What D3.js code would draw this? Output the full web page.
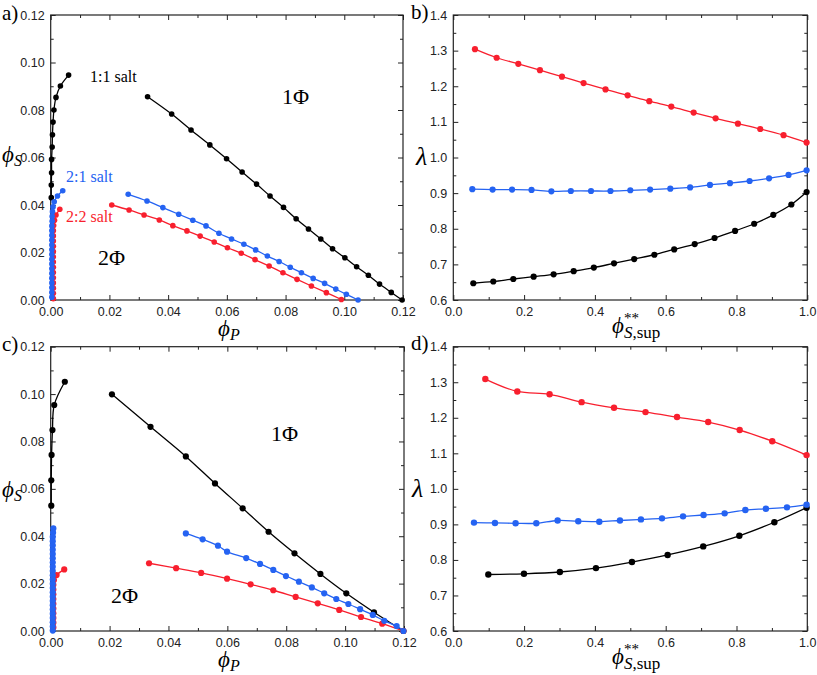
<!DOCTYPE html>
<html><head><meta charset="utf-8">
<script src="https://cdn.jsdelivr.net/npm/d3@7"></script>
<style>body{margin:0;background:#fff}svg{display:block}</style>
</head><body><svg id="chart" width="817" height="675"></svg>
<script>
// ---------------- DATA ----------------
// Panel a) phase diagram (phi_P, phi_S)
const aBlackLeft = [[0.0061,0.0947],[0.0033,0.0901],[0.0018,0.0853],[0.0011,0.0800],[0.0008,0.0749],[0.0006,0.0696],[0.0005,0.0644],[0.0003,0.0592],[0.0003,0.0536],[0.0002,0.0484],[0.0002,0.0431]];
const aBlackRight = [[0.0330,0.0856],[0.0412,0.0783],[0.0478,0.0716],[0.0542,0.0653],[0.0599,0.0595],[0.0652,0.0539],[0.0701,0.0488],[0.0747,0.0438],[0.0793,0.0390],[0.0836,0.0342],[0.0878,0.0299],[0.0920,0.0257],[0.0960,0.0216],[0.1002,0.0178],[0.1042,0.0140],[0.1082,0.0104],[0.1120,0.0067],[0.1160,0.0032],[0.1197,0.0000]];
const aBlueLeft = [[0.0041,0.0460],[0.0023,0.0438],[0.0012,0.0414],[0.0008,0.0392],[0.0006,0.0372],[0.0005,0.0352],[0.0005,0.0332],[0.0004,0.0312],[0.0004,0.0292],[0.0004,0.0272],[0.0004,0.0252],[0.0004,0.0232],[0.0004,0.0212],[0.0004,0.0192],[0.0004,0.0172],[0.0004,0.0152],[0.0004,0.0132],[0.0004,0.0112],[0.0004,0.0092],[0.0004,0.0072],[0.0004,0.0052],[0.0004,0.0032],[0.0004,0.0012]];
const aBlueRight = [[0.0264,0.0445],[0.0328,0.0417],[0.0382,0.0389],[0.0436,0.0361],[0.0484,0.0336],[0.0529,0.0312],[0.0573,0.0281],[0.0616,0.0257],[0.0658,0.0235],[0.0698,0.0211],[0.0738,0.0185],[0.0778,0.0162],[0.0816,0.0138],[0.0854,0.0115],[0.0894,0.0091],[0.0933,0.0070],[0.0971,0.0046],[0.1007,0.0024],[0.1047,0.0000]];
const aRedLeft = [[0.0031,0.0382],[0.0018,0.0358],[0.0013,0.0336],[0.0010,0.0314],[0.0009,0.0292],[0.0009,0.0270],[0.0009,0.0248],[0.0009,0.0226],[0.0009,0.0204],[0.0009,0.0182],[0.0009,0.0160],[0.0009,0.0138],[0.0009,0.0116],[0.0009,0.0094],[0.0009,0.0072],[0.0009,0.0050],[0.0009,0.0028],[0.0009,0.0006]];
const aRedRight = [[0.0208,0.0400],[0.0267,0.0379],[0.0318,0.0358],[0.0370,0.0337],[0.0416,0.0313],[0.0464,0.0291],[0.0509,0.0269],[0.0557,0.0244],[0.0602,0.0220],[0.0649,0.0197],[0.0696,0.0170],[0.0744,0.0143],[0.0791,0.0115],[0.0839,0.0087],[0.0888,0.0059],[0.0939,0.0031],[0.0990,0.0002]];

// Panel b) lambda vs phi**_S,sup
const bBlack = [[0.0565,0.647],[0.113,0.652],[0.1695,0.659],[0.227,0.6655],[0.2834,0.672],[0.340,0.681],[0.397,0.691],[0.454,0.703],[0.511,0.715],[0.568,0.727],[0.624,0.742],[0.682,0.757],[0.738,0.774],[0.796,0.794],[0.850,0.814],[0.904,0.839],[0.955,0.868],[0.998,0.903]];
const bBlue = [[0.0537,0.911],[0.111,0.910],[0.166,0.910],[0.221,0.909],[0.277,0.905],[0.332,0.906],[0.389,0.906],[0.444,0.906],[0.500,0.908],[0.556,0.910],[0.613,0.9125],[0.669,0.916],[0.725,0.923],[0.7815,0.928],[0.837,0.934],[0.892,0.9415],[0.947,0.951],[0.998,0.964]];
const bRed = [[0.0612,1.304],[0.1224,1.280],[0.1836,1.263],[0.2448,1.245],[0.307,1.227],[0.368,1.209],[0.430,1.191],[0.4925,1.1745],[0.5537,1.158],[0.6158,1.143],[0.679,1.126],[0.741,1.110],[0.804,1.095],[0.867,1.080],[0.933,1.0626],[0.998,1.042]];

// Panel c) phase diagram
const cBlackLeft = [[0.0048,0.1052],[0.0012,0.0954],[0.0006,0.0848],[0.0003,0.0743],[0.0002,0.0636],[0.0002,0.0529]];
const cBlackRight = [[0.0208,0.0999],[0.0339,0.0862],[0.0459,0.0737],[0.0558,0.0623],[0.0652,0.0518],[0.0740,0.0419],[0.0828,0.0328],[0.0916,0.0241],[0.1004,0.0159],[0.1098,0.0079],[0.1198,0.0000]];
const cBlueLeft = [[0.0009,0.0433],[0.0008,0.0415],[0.0007,0.0397],[0.0007,0.0379],[0.0007,0.0361],[0.0007,0.0343],[0.0007,0.0325],[0.0007,0.0307],[0.0007,0.0289],[0.0007,0.0271],[0.0007,0.0253],[0.0007,0.0235],[0.0007,0.0217],[0.0007,0.0199],[0.0007,0.0181],[0.0007,0.0163],[0.0007,0.0145],[0.0007,0.0127],[0.0007,0.0109],[0.0007,0.0091],[0.0007,0.0073],[0.0007,0.0055],[0.0007,0.0037],[0.0007,0.0019],[0.0007,0.0002]];
const cBlueRight = [[0.0459,0.0412],[0.0516,0.0387],[0.0568,0.0360],[0.0599,0.0335],[0.0664,0.0308],[0.0711,0.0283],[0.0756,0.0258],[0.0799,0.0232],[0.0843,0.0208],[0.0887,0.0184],[0.0929,0.0159],[0.0970,0.0135],[0.1011,0.0114],[0.1051,0.0092],[0.1094,0.0068],[0.1133,0.0043],[0.1175,0.0021],[0.1198,0.0000]];
const cRedLeft = [[0.0046,0.0260],[0.0020,0.0236],[0.0011,0.0215],[0.0009,0.0195],[0.0009,0.0175],[0.0009,0.0155],[0.0009,0.0135],[0.0009,0.0115],[0.0009,0.0095],[0.0009,0.0075],[0.0009,0.0055],[0.0009,0.0035],[0.0009,0.0015]];
const cRedRight = [[0.0334,0.0286],[0.0426,0.0265],[0.0511,0.0245],[0.0599,0.0221],[0.0679,0.0197],[0.0756,0.0172],[0.0832,0.0144],[0.0907,0.0117],[0.0980,0.0089],[0.1054,0.0059],[0.1126,0.0031],[0.1198,0.0000]];

// Panel d) lambda vs phi**_S,sup
const dBlack = [[0.0989,0.759],[0.1996,0.761],[0.301,0.766],[0.403,0.777],[0.5047,0.794],[0.6055,0.814],[0.706,0.838],[0.808,0.868],[0.907,0.906],[0.998,0.947]];
const dBlue = [[0.0584,0.905],[0.1177,0.904],[0.176,0.903],[0.2345,0.903],[0.2947,0.911],[0.353,0.909],[0.4124,0.9076],[0.4708,0.911],[0.530,0.914],[0.5895,0.917],[0.649,0.9226],[0.707,0.9264],[0.7665,0.931],[0.825,0.9404],[0.883,0.944],[0.9426,0.948],[0.998,0.9555]];
const dRed = [[0.0904,1.309],[0.1808,1.274],[0.272,1.266],[0.3625,1.244],[0.454,1.228],[0.543,1.216],[0.632,1.202],[0.720,1.188],[0.809,1.1655],[0.901,1.134],[0.998,1.095]];

// Axis ticks
const phiTicks = [0, 0.02, 0.04, 0.06, 0.08, 0.10, 0.12];
const phiMinor = [0.01, 0.03, 0.05, 0.07, 0.09, 0.11];
const supTicks = [0, 0.2, 0.4, 0.6, 0.8, 1.0];
const supMinor = [0.1, 0.3, 0.5, 0.7, 0.9];
const lamTicks = [0.6, 0.7, 0.8, 0.9, 1.0, 1.1, 1.2, 1.3, 1.4];
const lamMinor = [0.65, 0.75, 0.85, 0.95, 1.05, 1.15, 1.25, 1.35];

// ---------------- DRAW ----------------
const BLACK = "#000000", BLUE = "#2563f2", RED = "#f81f2e";
const SANS = "'Liberation Sans', Arial, sans-serif";
const SERIF = "'Liberation Serif', 'Times New Roman', serif";
const svg = d3.select("#chart");
svg.append("rect").attr("width", 817).attr("height", 675).attr("fill", "#fff");

const panels = [
  {id:"a", L:50.7, R:403, T:15, B:300, xd:[0,0.12], yd:[0,0.12], xt:phiTicks, xm:phiMinor, yt:phiTicks, ym:phiMinor, xf:d3.format(".2f"), yf:d3.format(".2f"), r:2.8,
   series:[[aBlackLeft,BLACK],[aBlackRight,BLACK],[aRedLeft,RED],[aRedRight,RED],[aBlueLeft,BLUE],[aBlueRight,BLUE]]},
  {id:"b", L:453.3, R:807.3, T:15, B:300, xd:[0,1], yd:[0.6,1.4], xt:supTicks, xm:supMinor, yt:lamTicks, ym:lamMinor, xf:d3.format(".1f"), yf:d3.format(".1f"), r:3.1,
   series:[[bBlack,BLACK],[bRed,RED],[bBlue,BLUE]]},
  {id:"c", L:50.7, R:404, T:346.7, B:631, xd:[0,0.12], yd:[0,0.12], xt:phiTicks, xm:phiMinor, yt:phiTicks, ym:phiMinor, xf:d3.format(".2f"), yf:d3.format(".2f"), r:3.1,
   series:[[cBlackLeft,BLACK],[cBlackRight,BLACK],[cRedLeft,RED],[cRedRight,RED],[cBlueLeft,BLUE],[cBlueRight,BLUE]]},
  {id:"d", L:453.3, R:807.3, T:346.7, B:631, xd:[0,1], yd:[0.6,1.4], xt:supTicks, xm:supMinor, yt:lamTicks, ym:lamMinor, xf:d3.format(".1f"), yf:d3.format(".1f"), r:3.2,
   series:[[dBlack,BLACK],[dRed,RED],[dBlue,BLUE]]}
];

panels.forEach(p => {
  const x = d3.scaleLinear().domain(p.xd).range([p.L, p.R]);
  const y = d3.scaleLinear().domain(p.yd).range([p.B, p.T]);
  const g = svg.append("g");
  const style = sel => {
    sel.select(".domain").remove();
    sel.selectAll(".tick line").attr("stroke", "#222").attr("stroke-width", 1);
    sel.selectAll(".tick text").attr("font-family", SANS).attr("font-size", "12.5px").attr("fill", "#222");
  };
  // major ticks
  g.append("g").attr("transform", `translate(0,${p.B})`)
    .call(d3.axisBottom(x).tickValues(p.xt).tickFormat(p.xf).tickSize(-5).tickPadding(7)).call(style);
  g.append("g").attr("transform", `translate(0,${p.T})`)
    .call(d3.axisTop(x).tickValues(p.xt).tickFormat("").tickSize(-5)).call(style);
  g.append("g").attr("transform", `translate(${p.L},0)`)
    .call(d3.axisLeft(y).tickValues(p.yt).tickFormat(p.yf).tickSize(-5).tickPadding(6)).call(style);
  g.append("g").attr("transform", `translate(${p.R},0)`)
    .call(d3.axisRight(y).tickValues(p.yt).tickFormat("").tickSize(-5)).call(style);
  // minor ticks
  g.append("g").attr("transform", `translate(0,${p.B})`).call(d3.axisBottom(x).tickValues(p.xm).tickFormat("").tickSize(-3)).call(style);
  g.append("g").attr("transform", `translate(0,${p.T})`).call(d3.axisTop(x).tickValues(p.xm).tickFormat("").tickSize(-3)).call(style);
  g.append("g").attr("transform", `translate(${p.L},0)`).call(d3.axisLeft(y).tickValues(p.ym).tickFormat("").tickSize(-3)).call(style);
  g.append("g").attr("transform", `translate(${p.R},0)`).call(d3.axisRight(y).tickValues(p.ym).tickFormat("").tickSize(-3)).call(style);
  // frame
  g.append("rect").attr("x", p.L).attr("y", p.T).attr("width", p.R - p.L).attr("height", p.B - p.T)
    .attr("fill", "none").attr("stroke", "#222").attr("stroke-width", 1.2);

  const line = d3.line().x(d => x(d[0])).y(d => y(d[1])).curve(d3.curveCatmullRom.alpha(0.5));
  p.series.forEach(([data, col]) => {
    g.append("path").datum(data).attr("d", line).attr("fill", "none").attr("stroke", col).attr("stroke-width", 1.3);
    g.selectAll(null).data(data).enter().append("circle")
      .attr("cx", d => x(d[0])).attr("cy", d => y(d[1])).attr("r", p.r).attr("fill", col);
  });
});

// ---------------- TEXT ----------------
function txt(xp, yp, s, size, col, anchor) {
  return svg.append("text").attr("x", xp).attr("y", yp).attr("font-family", SERIF)
    .attr("font-size", size).attr("fill", col || "#000").attr("text-anchor", anchor || "start").text(s);
}
// panel letters
txt(2, 20, "a)", "21px");
txt(411, 19, "b)", "21px");
txt(2, 351, "c)", "21px");
txt(411, 350, "d)", "21px");

// annotations
txt(90, 82, "1:1 salt", "16px");
txt(282, 104, "1Φ", "22px");
txt(66, 182, "2:1 salt", "16px", BLUE);
txt(66, 222, "2:2 salt", "16px", RED);
txt(98, 265, "2Φ", "22px");
txt(271, 441, "1Φ", "22px");
txt(111, 603, "2Φ", "22px");

// axis titles
function phiSub(xp, yp, sub) {
  const t = svg.append("text").attr("x", xp).attr("y", yp).attr("font-family", SERIF).attr("font-size", "23px").attr("fill", "#000");
  t.append("tspan").attr("font-style", "italic").text("ϕ");
  t.append("tspan").attr("font-style", "italic").attr("font-size", "16px").attr("dy", 4).text(sub);
}
phiSub(2, 162, "S");
phiSub(2, 497, "S");
phiSub(218, 336, "P");
phiSub(218, 667, "P");

function phiSup(xp, yp) {
  const t = svg.append("text").attr("x", xp).attr("y", yp).attr("font-family", SERIF).attr("font-size", "23px").attr("fill", "#000");
  t.append("tspan").attr("font-style", "italic").text("ϕ");
  t.append("tspan").attr("font-size", "15px").attr("dy", -10).text("**");
  const t2 = svg.append("text").attr("x", xp + 12).attr("y", yp + 5).attr("font-family", SERIF).attr("font-size", "17px").attr("fill", "#000");
  t2.append("tspan").attr("font-style", "italic").text("S");
  t2.append("tspan").text(",sup");
}
phiSup(612, 333);
phiSup(612, 664);

function lam(xp, yp) {
  svg.append("text").attr("x", xp).attr("y", yp).attr("font-family", SERIF).attr("font-style", "italic")
    .attr("font-size", "26px").attr("fill", "#000").text("λ");
}
lam(416, 165);
lam(412, 497);
</script></body></html>
